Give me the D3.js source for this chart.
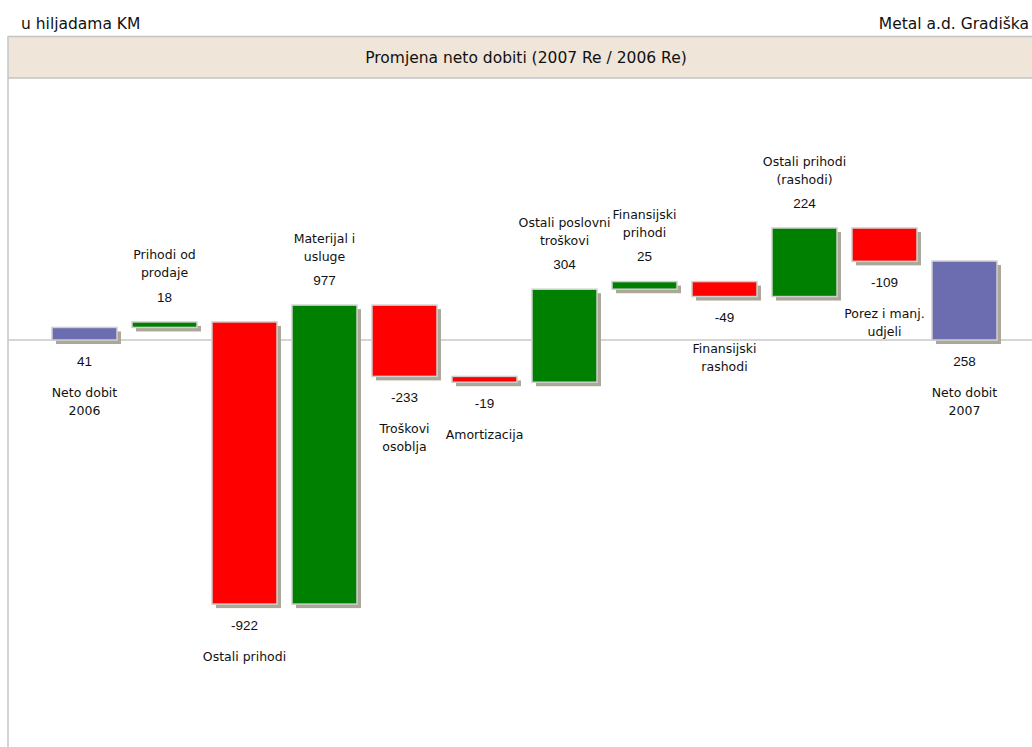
<!DOCTYPE html>
<html>
<head>
<meta charset="utf-8">
<script src="https://cdn.jsdelivr.net/npm/d3@7"></script>
<style>
  body { margin: 0; background: #fff; }
  svg { display: block; }
  .hdr { font-family: Tahoma, "DejaVu Sans", sans-serif; font-size: 15.5px; fill: #111; }
  .cat { font-family: Tahoma, "DejaVu Sans", sans-serif; font-size: 12.5px; fill: #111; }
  .val { font-family: Arial, "Liberation Sans", sans-serif; font-size: 13.5px; fill: #111; }
</style>
</head>
<body>
<div id="chart"></div>
<script>
// data (thousands of KM)
var categories = [
  "Neto dobit\n2006", "Prihodi od\nprodaje", "Ostali prihodi", "Materijal i\nusluge",
  "Troškovi\nosoblja", "Amortizacija", "Ostali poslovni\ntroškovi", "Finansijski\nprihodi",
  "Finansijski\nrashodi", "Ostali prihodi\n(rashodi)", "Porez i manj.\nudjeli", "Neto dobit\n2007"
];
var values = [41, 18, -922, 977, -233, -19, 304, 25, -49, 224, -109, 258];
var isTotal = [true, false, false, false, false, false, false, false, false, false, false, true];

var leftText = "u hiljadama KM";
var rightText = "Metal a.d. Gradiška";
var titleText = "Promjena neto dobiti (2007 Re / 2006 Re)";

var width = 1032, height = 747;
var colors = { total: "#6b6db0", up: "#008000", down: "#ff0000", shadow: "#aca899", edge: "#cfcfcf" };

var svg = d3.select("#chart").append("svg")
    .attr("width", width)
    .attr("height", height);

// build the waterfall steps
var steps = [];
var running = 0;
values.forEach(function(v, i){
    var start, end;
    if(isTotal[i]){
        start = 0; end = v; running = v;
    } else {
        start = running; end = running + v; running = end;
    }
    steps.push({name: categories[i], value: v, start: start, end: end, total: isTotal[i]});
});

var x = d3.scaleBand()
    .domain(d3.range(steps.length))
    .range([44.5, 1004.5])
    .paddingInner(0.1875)
    .paddingOuter(0.09375);

var y = d3.scaleLinear()
    .domain([-1000, 800])
    .range([646, 95.2]);

// header
svg.append("text").attr("class", "hdr")
    .attr("x", 21).attr("y", 29)
    .text(leftText);
svg.append("text").attr("class", "hdr")
    .attr("x", 1029).attr("y", 29)
    .attr("text-anchor", "end")
    .text(rightText);

// title band
svg.append("rect")
    .attr("x", 8).attr("y", 36.5)
    .attr("width", width).attr("height", 41.5)
    .attr("fill", "#efe5d9");
svg.append("line").attr("x1", 8).attr("x2", width).attr("y1", 36.5).attr("y2", 36.5)
    .attr("stroke", "#c4c4c4").attr("stroke-width", 1.5);
svg.append("line").attr("x1", 8).attr("x2", width).attr("y1", 78).attr("y2", 78)
    .attr("stroke", "#c4c4c4").attr("stroke-width", 1.5);
svg.append("line").attr("x1", 8).attr("x2", 8).attr("y1", 36).attr("y2", height)
    .attr("stroke", "#c4c4c4").attr("stroke-width", 1.5);
svg.append("text").attr("class", "hdr")
    .attr("x", 526).attr("y", 63)
    .attr("text-anchor", "middle")
    .text(titleText);

// zero line
svg.append("line")
    .attr("x1", 8).attr("x2", width)
    .attr("y1", y(0)).attr("y2", y(0))
    .attr("stroke", "#c8c8c8").attr("stroke-width", 1.5);

var g = svg.append("g").attr("class", "bars");

var bar = g.selectAll("g.step")
    .data(steps)
    .enter().append("g")
    .attr("class", "step");

// shadows
bar.append("rect")
    .attr("x", function(d, i){ return x(i) + 4; })
    .attr("y", function(d){ return y(Math.max(d.start, d.end)) + 4; })
    .attr("width", x.bandwidth())
    .attr("height", function(d){ return Math.abs(y(d.start) - y(d.end)); })
    .attr("fill", colors.shadow);

bar.append("rect")
    .attr("x", function(d, i){ return x(i); })
    .attr("y", function(d){ return y(Math.max(d.start, d.end)); })
    .attr("width", x.bandwidth())
    .attr("height", function(d){ return Math.abs(y(d.start) - y(d.end)); })
    .attr("fill", function(d){ return d.total ? colors.total : (d.value >= 0 ? colors.up : colors.down); })
    .attr("stroke", colors.edge)
    .attr("stroke-width", 1.5);

// labels
bar.each(function(d, i){
    var sel = d3.select(this);
    var cx = x(i) + x.bandwidth() / 2;
    var lines = d.name.split("\n");
    var valY, catY;
    if(d.total){
        valY = y(0) + 21;
        catY = lines.map(function(l, k){ return y(0) + 52 + k * 18; });
    } else if(d.value >= 0){
        var top = y(d.end);
        valY = top - 25;
        catY = lines.map(function(l, k){ return top - 49 - (lines.length - 1 - k) * 18; });
    } else {
        var bottom = y(d.end);
        valY = bottom + 21;
        catY = lines.map(function(l, k){ return bottom + 52 + k * 18; });
    }
    sel.append("text").attr("class", "val")
        .attr("x", cx).attr("y", valY)
        .attr("dy", "0.36em")
        .attr("text-anchor", "middle")
        .text(d.value);
    lines.forEach(function(l, k){
        sel.append("text").attr("class", "cat")
            .attr("x", cx).attr("y", catY[k])
            .attr("dy", "0.36em")
            .attr("text-anchor", "middle")
            .text(l);
    });
});
</script>
</body>
</html>
